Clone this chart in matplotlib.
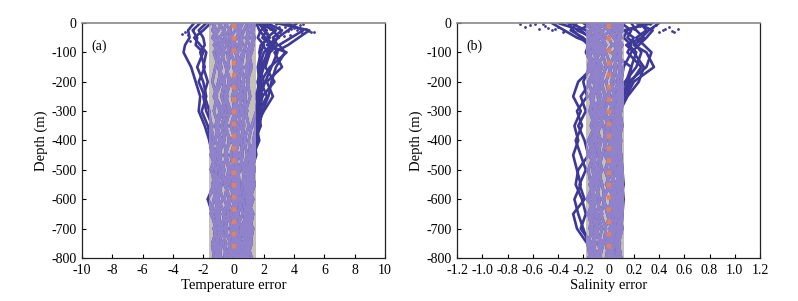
import matplotlib
matplotlib.use('Agg')
import matplotlib.pyplot as plt
from matplotlib.patches import Rectangle

# ── Colours ────────────────────────────────────────────────────────────
NAVY = '#3e3896'
LAVENDER = '#9083cc'
BAND = '#c6c0ba'
ORANGE = '#e0825f'
plt.rcParams['font.family'] = ['Liberation Serif', 'DejaVu Serif']

# ── Data ───────────────────────────────────────────────────────────────
depth = [0, -25, -50, -75, -100, -150, -200, -250, -300, -350,
         -400, -450, -500, -550, -600, -650, -700, -750, -800]

temp_profiles = [
    [-2.6, -3.0, -2.9, -3.2, -3.3, -2.8, -2.5, -2.2, -2.3, -1.9, -1.6, -1.4, -1.2, -1.0, -1.1, -0.9, -1.0, -0.8, -0.9],
    [-2.2, -2.7, -2.4, -2.5, -2.0, -2.4, -2.0, -1.8, -2.1, -1.7, -1.5, -1.2, -1.4, -1.3, -1.7, -1.4, -1.2, -1.3, -1.1],
    [-1.8, -2.3, -2.0, -1.9, -2.2, -1.9, -2.3, -1.9, -1.6, -1.5, -1.3, -1.5, -1.1, -1.4, -1.2, -1.0, -1.3, -1.0, -1.2],
    [-1.5, -2.0, -2.6, -2.2, -1.8, -2.0, -1.7, -2.0, -1.8, -1.4, -1.6, -1.2, -1.5, -1.1, -1.3, -1.5, -1.1, -1.4, -1.3],
    [3.5, 4.6, 3.8, 3.0, 3.4, 2.8, 2.5, 2.3, 1.9, 1.7, 1.5, 1.2, 1.0, 1.3, 1.1, 0.9, 1.2, 0.8, 1.0],
    [2.8, 5.0, 4.3, 3.6, 2.7, 3.2, 2.2, 2.6, 2.0, 1.5, 1.3, 1.4, 1.1, 0.8, 1.2, 1.0, 0.7, 0.9, 0.6],
    [2.2, 3.2, 2.6, 2.9, 2.4, 2.1, 2.7, 1.9, 1.6, 1.8, 1.4, 1.0, 1.2, 1.0, 0.8, 1.1, 0.9, 0.7, 0.8],
    [1.8, 2.6, 3.0, 2.2, 3.5, 2.4, 1.8, 2.2, 1.7, 1.4, 1.6, 1.3, 0.9, 1.1, 1.0, 0.7, 1.0, 0.6, 0.7],
    [1.6, 2.2, 1.9, 2.5, 2.0, 1.7, 2.0, 1.6, 1.5, 1.2, 1.0, 1.1, 1.3, 0.9, 0.6, 0.9, 0.5, 0.8, 0.5],
    [1.7, 2.0, 2.4, 1.8, 1.7, 1.9, 1.6, 1.7, 1.6, 1.6, 1.6, 1.0, 0.8, 1.2, 0.9, 1.3, 1.1, 0.9, 1.2],
    [2.4, 1.8, 1.6, 2.0, 1.8, 1.6, 1.7, 1.5, 1.7, 1.5, 1.4, 1.4, 1.0, 0.7, 1.3, 0.8, 0.6, 1.1, 0.9],
    [1.9, 2.8, 2.2, 1.9, 2.3, 1.8, 1.6, 1.8, 1.6, 1.5, 1.7, 1.3, 1.1, 0.9, 1.3, 1.0, 0.8, 1.0, 0.7],
    [4.2, 3.6, 2.9, 2.6, 2.9, 2.5, 2.1, 1.7, 1.8, 1.6, 1.5, 1.2, 1.4, 1.1, 0.9, 1.2, 1.0, 1.2, 0.9],
    [1.5, 1.7, 2.1, 2.7, 2.2, 2.0, 1.7, 1.9, 1.7, 1.7, 1.4, 1.5, 1.2, 1.4, 1.1, 0.8, 1.3, 1.1, 0.8],
    [-1.2, -1.4, -1.0, -1.3, -0.9, -1.2, -1.4, -1.1, -1.3, -1.0, -1.2, -0.8, -1.1, -1.4, -1.2, -0.9, -1.3, -1.0, -0.9],
    [-0.8, -1.0, -1.3, -0.7, -1.1, -0.8, -1.0, -1.3, -0.9, -1.2, -0.9, -1.3, -0.9, -1.0, -0.7, -1.2, -0.9, -1.1, -0.8],
    [-0.4, -0.7, -0.5, -0.9, -0.6, -1.0, -0.6, -0.8, -0.5, -0.8, -0.6, -1.0, -0.6, -0.8, -1.0, -0.6, -0.8, -0.5, -0.6],
    [0.0, -0.3, -0.6, -0.2, -0.4, -0.3, -0.7, -0.4, -0.8, -0.4, -0.7, -0.4, -0.8, -0.5, -0.3, -0.7, -0.4, -0.7, -0.4],
    [0.3, 0.1, -0.2, 0.2, -0.1, -0.5, -0.2, -0.5, -0.2, -0.6, -0.2, -0.6, -0.3, -0.6, -0.2, -0.4, -0.1, -0.3, -0.2],
    [0.6, 0.4, 0.2, -0.1, 0.3, 0.0, 0.2, -0.1, 0.1, -0.2, 0.1, -0.2, 0.0, -0.3, 0.1, -0.2, 0.2, -0.1, 0.0],
    [0.9, 0.7, 0.5, 0.6, 0.2, 0.4, 0.0, 0.3, -0.1, 0.2, -0.1, 0.2, -0.2, 0.1, -0.1, 0.3, 0.0, 0.2, 0.1],
    [1.1, 0.9, 1.0, 0.8, 0.7, 0.5, 0.7, 0.4, 0.5, 0.3, 0.4, 0.1, 0.3, 0.4, 0.2, 0.0, 0.3, 0.1, 0.3],
    [1.3, 1.2, 0.8, 1.1, 0.9, 1.0, 0.6, 0.8, 0.6, 0.7, 0.5, 0.6, 0.4, 0.2, 0.5, 0.3, 0.5, 0.4, 0.2],
    [1.4, 1.3, 1.2, 1.3, 1.2, 0.8, 1.0, 0.7, 0.9, 0.5, 0.8, 0.4, 0.7, 0.6, 0.4, 0.6, 0.2, 0.5, 0.4],
    [-1.0, -0.6, -0.9, -0.4, -0.8, -0.5, -0.3, -0.6, -0.3, -0.5, -0.3, -0.5, -0.2, -0.4, -0.6, -0.3, -0.6, -0.2, -0.5],
    [0.5, 0.2, 0.6, 0.3, 0.6, 0.2, 0.4, 0.1, 0.3, 0.0, 0.3, 0.0, 0.4, 0.0, 0.3, 0.1, -0.2, 0.0, -0.2],
    [-1.4, -1.1, -1.4, -1.0, -1.3, -1.0, -0.8, -1.2, -0.7, -1.1, -0.8, -1.1, -0.7, -1.2, -1.7, -1.1, -0.7, -1.2, -1.0],
    [1.0, 1.2, 1.4, 1.2, 1.0, 1.2, 0.9, 1.1, 0.8, 1.0, 0.7, 0.9, 0.6, 0.8, 0.6, 0.8, 0.6, 0.3, 0.6],
    [-0.6, -0.2, -0.3, 0.0, -0.2, 0.2, -0.1, 0.1, 0.2, 0.0, 0.2, 0.0, 0.2, -0.1, 0.2, 0.0, 0.3, -0.1, 0.2],
    [0.2, 0.5, 0.3, 0.5, 0.1, 0.6, 0.3, 0.6, 0.3, 0.5, 0.0, 0.3, 0.1, 0.3, 0.0, 0.2, 0.0, 0.3, 0.1],
]

sal_profiles = [
    [-0.10, -0.25, -0.12, -0.05, -0.08, -0.12, -0.24, -0.28, -0.22, -0.27, -0.24, -0.28, -0.25, -0.22, -0.27, -0.24, -0.20, -0.16, -0.15],
    [-0.30, -0.18, -0.08, -0.10, -0.06, -0.15, -0.20, -0.17, -0.25, -0.21, -0.26, -0.22, -0.18, -0.23, -0.19, -0.28, -0.25, -0.17, -0.13],
    [-0.20, -0.12, -0.05, -0.02, -0.10, -0.08, -0.14, -0.22, -0.18, -0.24, -0.19, -0.16, -0.24, -0.26, -0.21, -0.18, -0.22, -0.14, -0.12],
    [0.25, 0.30, 0.22, 0.28, 0.34, 0.30, 0.16, 0.10, 0.06, 0.08, 0.04, 0.06, 0.02, 0.05, 0.03, 0.07, 0.04, 0.02, 0.05],
    [0.18, 0.22, 0.28, 0.20, 0.30, 0.36, 0.20, 0.14, 0.08, 0.05, 0.07, 0.03, 0.06, 0.08, 0.10, 0.11, 0.06, 0.03, 0.04],
    [0.10, 0.18, 0.15, 0.22, 0.26, 0.22, 0.13, 0.08, 0.10, 0.06, 0.02, 0.05, 0.09, 0.06, 0.11, 0.10, 0.08, 0.05, 0.02],
    [0.30, 0.15, 0.12, 0.18, 0.15, 0.26, 0.18, 0.12, 0.05, 0.09, 0.06, 0.08, 0.04, 0.10, 0.07, 0.05, 0.09, 0.06, 0.07],
    [-0.25, -0.30, -0.20, -0.14, 0.02, 0.18, 0.14, 0.06, 0.02, 0.04, 0.00, 0.03, 0.01, 0.04, 0.02, 0.00, 0.03, 0.01, 0.00],
    [0.35, 0.12, 0.20, 0.16, 0.22, 0.18, 0.16, 0.10, 0.08, 0.04, 0.09, 0.05, 0.10, 0.07, 0.04, 0.08, 0.10, 0.07, 0.09],
    [-0.40, -0.22, -0.15, -0.08, -0.12, -0.05, -0.10, -0.06, -0.12, -0.08, -0.14, -0.10, -0.13, -0.09, -0.15, -0.11, -0.08, -0.12, -0.10],
    [-0.45, -0.35, -0.25, -0.10, -0.05, -0.02, -0.06, -0.02, -0.05, 0.00, -0.04, 0.02, -0.03, 0.01, -0.05, 0.02, -0.03, 0.00, -0.02],
    [0.40, 0.32, 0.26, 0.14, 0.20, 0.28, 0.24, 0.15, 0.09, 0.11, 0.08, 0.10, 0.07, 0.10, 0.08, 0.10, 0.09, 0.08, 0.07],
    [-0.32, -0.28, -0.22, -0.16, -0.18, -0.12, -0.06, -0.14, -0.08, -0.12, -0.06, -0.12, -0.09, -0.13, -0.11, -0.14, -0.09, -0.13, -0.08],
    [0.22, 0.35, 0.30, 0.24, 0.18, 0.12, 0.10, 0.11, 0.09, 0.10, 0.08, 0.10, 0.11, 0.12, 0.10, 0.09, 0.11, 0.08, 0.10],
    [-0.15, -0.08, -0.12, -0.14, -0.16, -0.10, -0.16, -0.12, -0.15, -0.11, -0.16, -0.12, -0.16, -0.14, -0.12, -0.16, -0.13, -0.16, -0.14],
    [-0.05, -0.14, -0.16, -0.11, -0.14, -0.16, -0.09, -0.15, -0.10, -0.14, -0.09, -0.14, -0.10, -0.15, -0.10, -0.13, -0.15, -0.10, -0.16],
    [0.00, -0.04, -0.10, -0.06, -0.12, -0.07, -0.12, -0.08, -0.06, -0.10, -0.06, -0.08, -0.05, -0.10, -0.07, -0.09, -0.05, -0.08, -0.06],
    [0.05, 0.02, -0.06, -0.02, -0.05, -0.02, -0.06, -0.03, -0.08, -0.04, -0.02, -0.05, -0.08, -0.05, -0.03, -0.06, -0.02, -0.04, -0.07],
    [0.08, 0.05, 0.00, 0.03, -0.02, 0.02, -0.02, 0.01, -0.03, 0.02, -0.04, 0.00, -0.02, 0.01, -0.04, -0.01, 0.02, -0.02, 0.00],
    [0.10, 0.08, 0.04, 0.08, 0.04, 0.06, 0.02, 0.05, 0.01, 0.05, 0.01, 0.04, 0.02, 0.05, 0.02, 0.04, 0.01, 0.03, 0.02],
    [0.12, 0.10, 0.09, 0.06, 0.09, 0.04, 0.08, 0.03, 0.07, 0.02, 0.07, 0.02, 0.06, 0.02, 0.06, 0.03, 0.06, 0.01, 0.04],
    [-0.12, -0.06, -0.02, -0.08, -0.03, -0.09, -0.04, -0.09, -0.03, -0.07, -0.11, -0.06, -0.11, -0.07, -0.10, -0.05, -0.11, -0.06, -0.09],
    [0.02, 0.06, 0.10, 0.04, 0.10, 0.08, 0.10, 0.06, 0.10, 0.07, 0.10, 0.08, 0.11, 0.11, 0.12, 0.11, 0.10, 0.08, 0.10],
    [-0.08, 0.00, 0.04, 0.10, 0.06, 0.00, 0.05, -0.01, 0.04, -0.02, 0.03, -0.03, 0.03, -0.02, 0.05, 0.00, 0.04, -0.01, 0.03],
    [0.06, 0.11, 0.07, 0.11, 0.08, 0.10, 0.07, 0.09, 0.05, 0.10, 0.06, 0.10, 0.08, 0.09, 0.06, 0.10, 0.07, 0.09, 0.06],
    [-0.02, -0.10, -0.07, -0.13, -0.09, -0.13, -0.08, -0.12, -0.14, -0.06, -0.12, -0.16, -0.07, -0.12, -0.17, -0.08, -0.14, -0.04, -0.11],
]

# surface scatter points
temp_dot_x = [-3.2, -3.0, -2.7, -2.5, 2.0, 2.4, 2.8, 3.1, 3.4, 3.7, 3.9, 4.2, 4.5, 4.8, 5.1, 5.3, 4.6, 3.3, 2.6, 3.8,
              -3.4, -2.9, 2.2, 3.0, 3.6, 4.0, 4.4, 5.0]
temp_dot_y = [-30, -42, -25, -50, -8, -20, -5, -30, -15, -40, -10, -25, -35, -20, -30, -32, -5, -45, -55, -22,
              -38, -60, -35, -12, -28, -18, -8, -26]
sal_dot_x = [-0.70, -0.62, -0.55, -0.50, -0.45, -0.40, -0.35, -0.30, 0.20, 0.25, 0.30, 0.35, 0.40, 0.45, 0.50, 0.55,
             -0.58, -0.48, 0.38, 0.48, -0.66, -0.52, -0.42, -0.36, 0.28, 0.33, 0.43, 0.52]
sal_dot_y = [-2, -8, -20, -10, -25, -15, -28, -5, -20, -10, -25, -15, -30, -20, -27, -22,
             -5, -18, -8, -12, -12, -3, -20, -32, -35, -5, -24, -30]

temp_band = (-1.6, 1.45)
sal_band = (-0.18, 0.12)
mean_depth = [-5, -780]
mean_err = [0, 0]

temp_ticks = [-10, -8, -6, -4, -2, 0, 2, 4, 6, 8, 10]
temp_ticklabels = ['-10', '-8', '-6', '-4', '-2', '0', '2', '4', '6', '8', '10']
sal_ticks = [-1.2, -1.0, -0.8, -0.6, -0.4, -0.2, 0, 0.2, 0.4, 0.6, 0.8, 1.0, 1.2]
sal_ticklabels = ['-1.2', '-1.0', '-0.8', '-0.6', '-0.4', '-0.2', '0', '0.2', '0.4', '0.6', '0.8', '1.0', '1.2']
depth_ticks = [0, -100, -200, -300, -400, -500, -600, -700, -800]


def draw_panel(ax, profiles, dots_x, dots_y, band, xlim, xticks, xticklabels, xlabel, tag):
    ax.axvspan(band[0], band[1], color=BAND, lw=0, zorder=1)
    clip = Rectangle((band[0], -800), band[1] - band[0], 800, transform=ax.transData)
    for prof in profiles:
        ax.plot(prof, depth, color=NAVY, lw=1.9, zorder=2)
    for prof in profiles:
        ln, = ax.plot(prof, depth, color=LAVENDER, lw=1.9, zorder=3)
        ln.set_clip_path(clip)
    ax.scatter(dots_x, dots_y, s=4, color=NAVY, lw=0, zorder=2)
    ax.plot(mean_err, mean_depth, color=ORANGE, lw=3.2, ls=(0, (1, 1.75)), zorder=4)

    ax.set_xlim(*xlim)
    ax.set_ylim(-800, 0)
    ax.set_xticks(xticks)
    ax.set_xticklabels(xticklabels)
    ax.set_yticks(depth_ticks)
    ax.set_yticklabels([str(d) for d in depth_ticks])
    ax.tick_params(direction='in', length=3, width=0.8, labelsize=10, pad=4,
                   top=False, right=False)
    for side in ('left', 'right', 'bottom'):
        ax.spines[side].set_color('#222222')
        ax.spines[side].set_linewidth(0.9)
    ax.spines['top'].set_color('#888888')
    ax.spines['top'].set_linewidth(1.2)
    ax.set_xlabel(xlabel, fontsize=10.5, labelpad=2)
    ax.set_ylabel('Depth (m)', fontsize=10.5, labelpad=2)
    ax.text(0.03, 0.93, tag, transform=ax.transAxes, fontsize=10, va='top', ha='left')


fig = plt.figure(figsize=(7.98, 3.01), dpi=100)
ax_a = fig.add_axes([0.1028, 0.143, 0.3797, 0.7806])
ax_b = fig.add_axes([0.5727, 0.143, 0.3797, 0.7806])

draw_panel(ax_a, temp_profiles, temp_dot_x, temp_dot_y, temp_band, (-10, 10),
           temp_ticks, temp_ticklabels, 'Temperature error', '(a)')
draw_panel(ax_b, sal_profiles, sal_dot_x, sal_dot_y, sal_band, (-1.2, 1.2),
           sal_ticks, sal_ticklabels, 'Salinity error', '(b)')

fig.savefig('out.png', dpi=100, facecolor='white')
